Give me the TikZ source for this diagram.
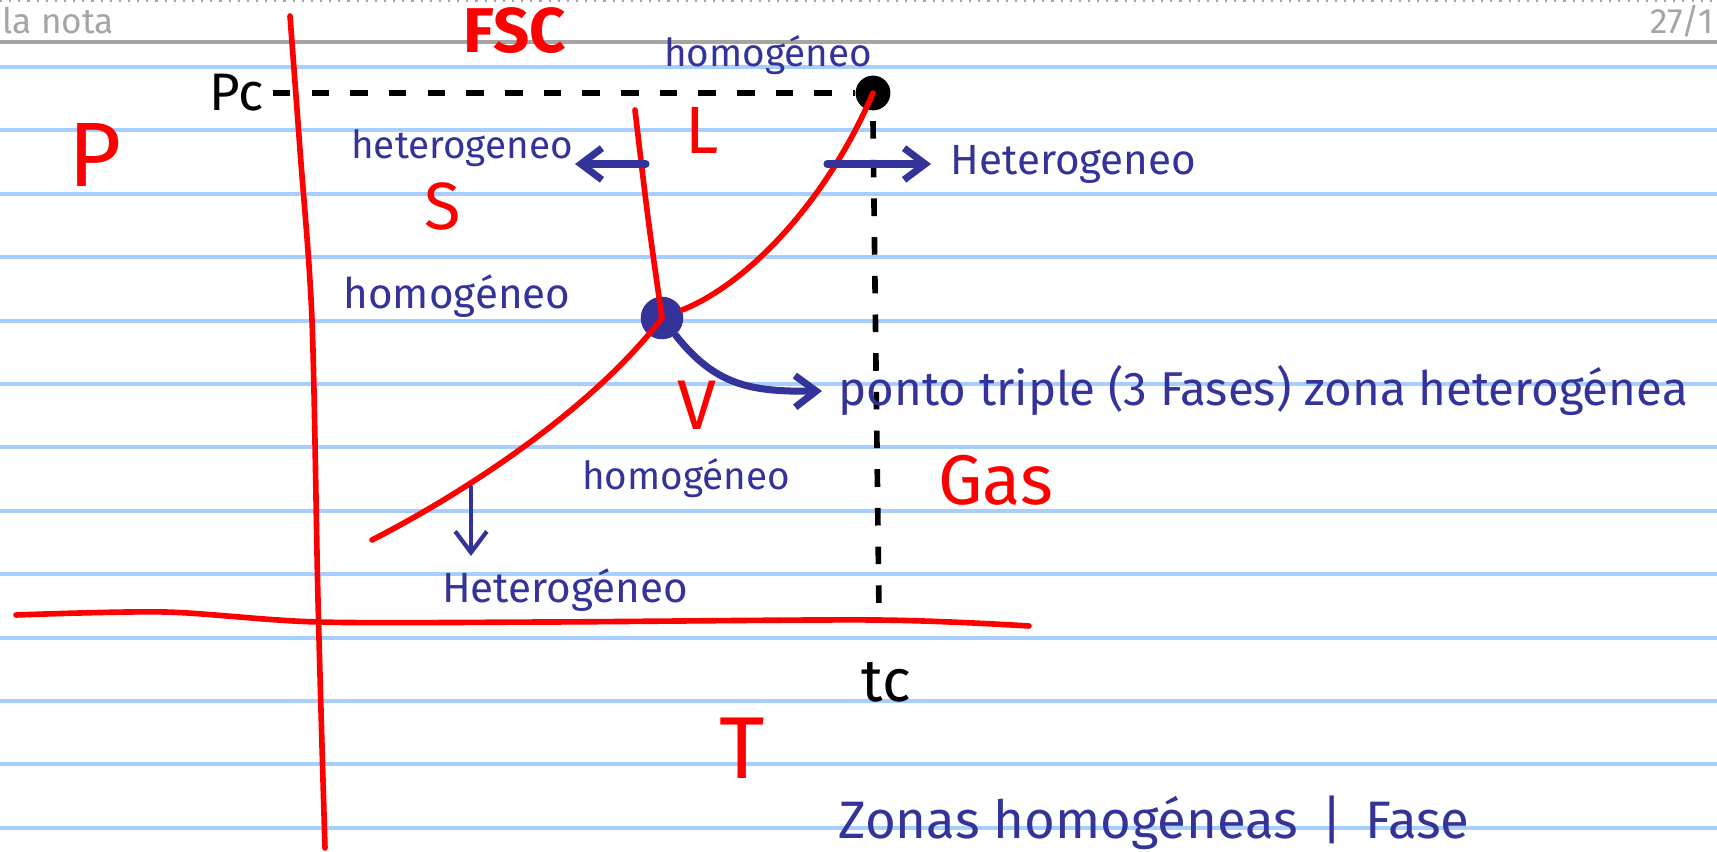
\documentclass[tikz,border=0pt]{standalone}
\usepackage{fontspec}
\setmainfont{Fira Sans}
\usepackage{xcolor}
\usepackage{tikz}
\usetikzlibrary{arrows.meta}
\definecolor{tinta}{RGB}{51,51,153}
\definecolor{raya}{RGB}{166,207,255}
\definecolor{cabeza}{RGB}{165,165,165}

\begin{document}
\begin{tikzpicture}[x=0.01cm,y=-0.01cm,
    rojo/.style={red,line width=1.6pt,line cap=round},
    azul/.style={tinta,line width=2pt,line cap=round},
    trazo/.style={black,line width=1.6pt,dash pattern=on 5pt off 6pt},
    mano/.style={tinta,inner sep=0pt,font=\fontsize{11}{13}\selectfont},
    fase/.style={red,inner sep=0pt},
    flecha/.style={-{Straight Barb[length=6pt,width=9pt]}}]
        \useasboundingbox (0,0) rectangle (1717,852);
        \clip (0,0) rectangle (1717,852);
        \fill[white] (0,0) rectangle (1717,852);
        % Hoja rayada
        \foreach \k in {0,...,12}
            \draw[raya, line width=1.1pt] (0,{67+63.4*\k}) -- (1717,{67+63.4*\k});
        % Cabecera
        \draw[cabeza, line width=0.6pt, dotted] (0,1) -- (1717,1);
        \draw[cabeza, line width=1.4pt] (0,42) -- (1717,42);
        \node[cabeza, anchor=west, inner sep=0pt, font=\fontsize{10}{12}\selectfont] (nota) at (2,21) {la nota};
        \node[cabeza, anchor=east, inner sep=0pt, font=\fontsize{10}{12}\selectfont] (fecha) at (1714,21) {27/1};
        % Ejes
        \draw[rojo] plot[smooth] coordinates {(290,16) (300,150) (312,320) (318,600) (325,848)};
        \draw[rojo] plot[smooth] coordinates {(16,615) (165,612) (318,622) (548,622) (876,620) (1029,626)};
        \node[fase, font=\fontsize{26}{28}\selectfont] (ejeP) at (95,155) {P};
        \node[fase, font=\fontsize{25}{27}\selectfont] (ejeT) at (742,748) {T};
        \node[fase, font=\fontsize{18}{20}\selectfont\bfseries] (fsc) at (515,31) {FSC};
        % Puntos
        \node[circle, fill=black, minimum size=18pt*0.55, inner sep=0pt] (cp) at (873,93) {};
        \node[circle, fill=tinta, minimum size=22pt*0.55, inner sep=0pt] (tp) at (662,318) {};
        \node[inner sep=0pt, font=\fontsize{15}{17}\selectfont] (pc) at (237,93) {Pc};
        \node[inner sep=0pt, font=\fontsize{17}{19}\selectfont] (tc) at (886,682) {tc};
        % Lineas criticas
        \draw[trazo] (pc.east) ++(8,0) -- (cp.west);
        \coordinate (tcarriba) at (879,612);
        \draw[trazo] (cp.south) ++(0,10) -- (tcarriba);
        % Curvas de equilibrio
        \coordinate (subini) at (372,540);
        \coordinate (fusini) at (635,110);
        \draw[rojo] (tp) .. controls (745,285) and (825,205) .. (cp.center);
        \draw[rojo] (subini) .. controls (460,495) and (590,412) .. (tp.center);
        \draw[rojo] (fusini) .. controls (648,220) .. (tp.center);
        % Fases
        \node[fase, font=\fontsize{19}{21}\selectfont] (fL) at (702,130) {L};
        \node[fase, font=\fontsize{19}{21}\selectfont] (fS) at (443,206) {S};
        \node[fase, font=\fontsize{20}{22}\selectfont] (fV) at (697,405) {V};
        \node[fase, font=\fontsize{20}{22}\selectfont] (gas) at (996,480) {Gas};
        % Etiquetas
        \node[mano] (homA) at (768,55) {homogéneo};
        \node[mano] (hetS) at (462,148) {heterogeneo};
        \node[mano, font=\fontsize{12}{14}\selectfont, anchor=west] (hetL) at (950,164) {Heterogeneo};
        \node[mano, font=\fontsize{12}{14}\selectfont] (homS) at (457,296) {homogéneo};
        \node[mano] (homV) at (686,478) {homogéneo};
        \node[mano, font=\fontsize{12}{14}\selectfont] (hetV) at (565,590) {Heterogéneo};
        \node[mano, font=\fontsize{13.5}{15}\selectfont, anchor=west] (triple) at (838,391) {ponto triple (3 Fases) zona heterogénea};
        \node[mano, font=\fontsize{15}{17}\selectfont, anchor=south west] (zonas) at (838,850) {Zonas homogéneas \,|\, Fase};
        % Flechas
        \coordinate (fusA) at (646,164);
        \coordinate (fusB) at (575,164);
        \coordinate (vapA) at (827,164);
        \coordinate (vapB) at (931,164);
        \coordinate (subA) at (471,487);
        \coordinate (subB) at (471,556);
        \coordinate (tripB) at (822,391);
        \draw[azul, flecha] (fusA) -- (fusB);
        \draw[azul, flecha] (vapA) -- (vapB);
        \draw[azul, line width=1.2pt, flecha] (subA) -- (subB);
        \draw[azul, flecha] (tp) .. controls (715,385) and (750,392) .. (tripB);
    \end{tikzpicture}
\end{document}
